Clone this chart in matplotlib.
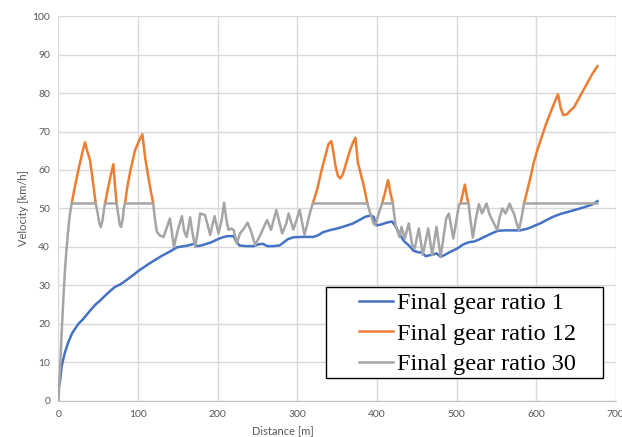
import matplotlib
matplotlib.use('Agg')
import matplotlib.pyplot as plt
from matplotlib.patches import Rectangle
import numpy as np

# velocity vs distance for three final gear ratios
dist_r1 = [0, 2, 4, 8, 12, 17, 25, 30, 40, 46, 52, 62, 71, 78, 85, 94, 100, 115, 130, 140,
           149, 155, 161, 167, 171, 174, 180, 186, 192, 199, 205, 212, 220, 223, 227, 235,
           245, 252, 257, 262, 270, 278, 283, 288, 295, 305, 320, 326, 332, 340, 350, 360,
           370, 378, 385, 392, 396, 399, 405, 412, 419, 423, 428, 434, 440, 446, 452, 457,
           461, 470, 475, 480, 486, 492, 501, 508, 515, 522, 528, 535, 545, 552, 560, 570,
           580, 590, 598, 606, 614, 622, 631, 640, 650, 660, 670, 677]
vel_r1 = [3.3, 5.0, 9.0, 12.5, 15.0, 17.5, 20.0, 21.0, 23.5, 24.9, 26.0, 28.0, 29.6, 30.3,
          31.3, 32.7, 33.7, 35.8, 37.7, 38.8, 39.9, 40.1, 40.3, 40.6, 40.9, 40.2, 40.4, 40.8,
          41.2, 41.9, 42.4, 42.8, 42.8, 41.5, 40.4, 40.2, 40.2, 40.7, 40.8, 40.2, 40.2, 40.4,
          41.2, 42.0, 42.5, 42.6, 42.6, 43.0, 43.8, 44.3, 44.8, 45.4, 46.1, 47.0, 47.8, 48.2,
          47.8, 45.6, 45.8, 46.3, 46.6, 45.5, 43.5, 41.5, 40.4, 39.0, 38.6, 38.5, 37.6, 38.0,
          38.3, 37.4, 38.0, 38.7, 39.6, 40.6, 41.2, 41.4, 41.9, 42.6, 43.6, 44.2, 44.3, 44.3,
          44.3, 44.8, 45.5, 46.2, 47.1, 47.9, 48.6, 49.1, 49.7, 50.3, 51.0, 51.9]

dist_r30 = [0, 2, 4, 6, 8, 10.3, 12.5, 14.5, 16.6, 46.8, 49, 51, 53, 55, 57, 58.5, 73, 75,
            77, 78.6, 80.5, 82, 83.6, 119, 121, 123.5, 127, 132, 136, 140, 145, 150, 155,
            158, 161, 165.4, 168, 171.7, 175, 178, 184, 187, 190.6, 196, 201, 205, 208, 211,
            213.6, 217, 220, 224, 228, 232, 237.5, 242, 247, 253.5, 262, 267, 273.6, 281,
            286, 289, 295, 299, 303, 309, 312, 316, 319.5, 388, 392, 396, 398, 402, 406.5,
            420, 423.3, 428.3, 430.8, 435, 440, 444.3, 447.5, 452.6, 457.6, 464.4, 469.4,
            474.8, 480, 487, 490.3, 496, 503, 505, 515, 517.5, 520.5, 524, 528, 532, 537.7,
            541, 546, 551, 554, 557.5, 561.6, 566.7, 569, 572, 575, 578.4, 582, 584.7, 677]
vel_r30 = [0, 8, 17.6, 26, 33.5, 40, 45, 48.7, 51.3, 51.3, 49, 46.5, 45.1, 46.5, 49.5, 51.3,
           51.3, 48.5, 45.8, 45.2, 47, 50, 51.3, 51.3, 47.5, 44, 43, 42.6, 45, 47.4, 40,
           44.5, 48, 44, 42.6, 47.7, 44, 40, 44, 48.7, 48.3, 46, 43.1, 48, 43.5, 47, 51.5,
           47, 44.4, 44.8, 44.4, 40.9, 43.5, 44.5, 46.3, 44, 40.5, 43.1, 47, 44.4, 49.6,
           43.5, 46, 48.7, 44.5, 47, 49.6, 43.1, 45.5, 49, 51.3, 51.3, 48.5, 46, 45.7, 48.5,
           51.3, 51.3, 45.7, 42.6, 45.2, 42.2, 46.1, 40.5, 39.6, 44.8, 37.9, 44.8, 37.9,
           45.2, 37.4, 47.4, 48.7, 42.2, 50.9, 51.3, 51.3, 47, 42.4, 47, 51.1, 48.7, 51.3,
           48.7, 46.5, 44.4, 47.5, 50, 48.7, 51.3, 50, 48.7, 46.5, 44.4, 48, 51.3, 51.3]

# ratio 12 follows ratio 30 except where it runs above the 51.3 km/h cap
dist_r12 = [16.6, 20, 25, 30, 33.3, 36, 39.6, 42, 44.5, 46.8, np.nan,
            58.5, 62, 66, 69, 71, 73, np.nan,
            83.6, 86, 90, 96, 101, 105.4, 109, 113, 116, 119, np.nan,
            319.5, 325, 330, 335, 339, 342.7, 345, 348, 351, 354, 357, 361, 366, 370, 373,
            376, 379, 383.4, 388, np.nan,
            406.5, 410, 414, 417, 420, np.nan,
            505, 508, 510.5, 513, 515, np.nan,
            584.7, 588, 593, 597, 601.5, 606, 612, 620, 627.4, 631, 634, 639, 643, 647.5,
            652, 656, 664, 670, 677]
vel_r12 = [51.3, 55, 60, 64.5, 67.2, 65, 62.6, 59, 55, 51.3, np.nan,
           51.3, 55, 59, 61.5, 56, 51.3, np.nan,
           51.3, 55, 59.5, 65, 67.5, 69.3, 63, 58, 54.5, 51.3, np.nan,
           51.3, 55, 59.5, 63.5, 66.7, 67.5, 65, 61, 58.5, 57.8, 58.8, 61.5, 65, 67.2, 68.4,
           62, 59.5, 56, 51.3, np.nan,
           51.3, 54, 57.4, 54, 51.3, np.nan,
           51.3, 54, 56.2, 53, 51.3, np.nan,
           51.3, 54, 58.2, 62, 65.2, 68, 71.7, 76, 79.7, 76, 74.3, 74.5, 75.5, 76.3,
           78, 79.5, 82.5, 84.8, 87]

labels = ['Final gear ratio 1', 'Final gear ratio 12', 'Final gear ratio 30']
colors = ['#4472C4', '#ED7D31', '#A5A5A5']

fig = plt.figure(figsize=(6.22, 4.37), dpi=100)
ax = fig.add_axes([0.094, 0.083, 0.896, 0.880])

ax.plot(dist_r1, vel_r1, color=colors[0], lw=1.8, label=labels[0])
ax.plot(dist_r12, vel_r12, color=colors[1], lw=1.8, label=labels[1])
ax.plot(dist_r30, vel_r30, color=colors[2], lw=1.8, label=labels[2])

ax.set_xlim(0, 700)
ax.set_ylim(0, 100)
ax.set_xticks(range(0, 701, 100))
ax.set_yticks(range(0, 101, 10))
ax.grid(True, color='#D9D9D9', lw=1.0)
ax.set_axisbelow(True)
for s in ['top', 'right', 'left']:
    ax.spines[s].set_visible(False)
ax.spines['bottom'].set_color('#BFBFBF')
ax.tick_params(length=0, labelsize=7.5, labelcolor='#595959')
ax.tick_params(axis='x', pad=7)
ax.tick_params(axis='y', pad=6)
for t in ax.get_xticklabels() + ax.get_yticklabels():
    t.set_fontfamily('Lato')

ax.set_xlabel('Distance [m]', fontsize=8, color='#595959', family='Lato')
ax.set_ylabel('Velocity [km/h]', fontsize=8, color='#595959', family='Lato')
ax.xaxis.set_label_coords(0.403, -0.064)
ax.yaxis.set_label_coords(-0.052, 0.5)

# legend box
ax.add_patch(Rectangle((0.480, 0.058), 0.497, 0.237, transform=ax.transAxes,
                       facecolor='white', edgecolor='black', lw=1.0, zorder=5))
leg = ax.legend(loc='upper left', bbox_to_anchor=(0.539, 0.282), frameon=False,
                borderpad=0, borderaxespad=0, handlelength=1.4, handletextpad=0.15,
                labelspacing=0.35, prop={'family': 'Liberation Serif', 'size': 17.5})
leg.set_zorder(6)

fig.savefig('out.png', dpi=100)
